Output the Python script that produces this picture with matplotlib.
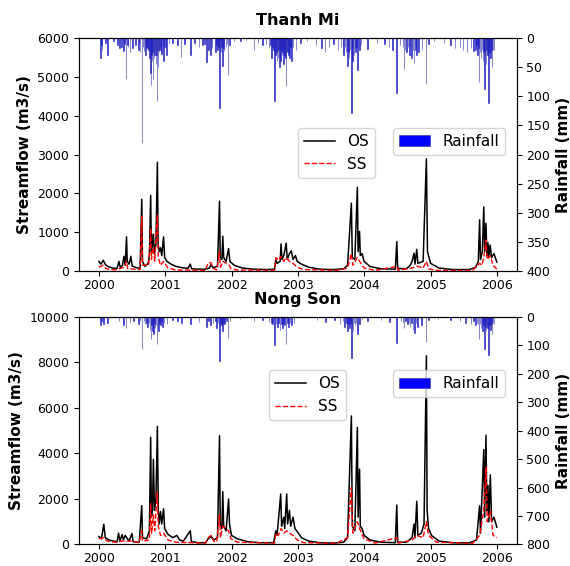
import pandas as pd
import matplotlib
matplotlib.use("Agg")
import matplotlib.pyplot as plt
import matplotlib.dates as mdates

# ---- Thanh Mi ----
tm_os = [("2000-01-01", 250), ("2000-01-12", 180), ("2000-01-25", 280), ("2000-02-05", 170), ("2000-02-20", 120),
         ("2000-03-15", 80), ("2000-04-10", 70), ("2000-04-20", 250), ("2000-04-28", 90), ("2000-05-10", 150),
         ("2000-05-18", 380), ("2000-05-25", 150), ("2000-06-01", 880), ("2000-06-05", 250), ("2000-06-15", 180),
         ("2000-06-25", 380), ("2000-07-02", 130), ("2000-07-25", 90), ("2000-08-15", 70), ("2000-08-24", 1850),
         ("2000-08-28", 250), ("2000-09-10", 120), ("2000-09-28", 200), ("2000-10-05", 400), ("2000-10-12", 1950),
         ("2000-10-16", 500), ("2000-10-22", 700), ("2000-10-27", 950), ("2000-11-02", 450), ("2000-11-10", 700),
         ("2000-11-18", 2800), ("2000-11-22", 700), ("2000-11-28", 500), ("2000-12-05", 600), ("2000-12-12", 400),
         ("2000-12-22", 880), ("2000-12-28", 350),
         ("2001-01-10", 250), ("2001-02-01", 180), ("2001-03-01", 120), ("2001-04-01", 90), ("2001-05-05", 70),
         ("2001-05-18", 180), ("2001-05-25", 60), ("2001-07-01", 50), ("2001-08-10", 50), ("2001-09-01", 80),
         ("2001-09-08", 160), ("2001-09-20", 90), ("2001-10-15", 120), ("2001-10-26", 1800), ("2001-10-30", 350),
         ("2001-11-08", 300), ("2001-11-13", 900), ("2001-11-18", 350), ("2001-12-01", 250), ("2001-12-15", 580),
         ("2001-12-22", 250),
         ("2002-01-15", 150), ("2002-03-01", 80), ("2002-05-01", 50), ("2002-07-15", 40), ("2002-08-25", 50),
         ("2002-09-01", 300), ("2002-09-08", 200), ("2002-09-25", 250), ("2002-09-30", 700), ("2002-10-05", 300),
         ("2002-10-15", 400), ("2002-10-28", 720), ("2002-11-03", 300), ("2002-11-15", 450), ("2002-11-25", 520),
         ("2002-12-05", 300), ("2002-12-18", 400), ("2002-12-28", 250),
         ("2003-01-20", 180), ("2003-03-01", 100), ("2003-05-01", 50), ("2003-07-15", 40), ("2003-09-10", 60),
         ("2003-10-01", 150), ("2003-10-22", 1750), ("2003-10-27", 350), ("2003-11-10", 300), ("2003-11-24", 2160),
         ("2003-11-28", 500), ("2003-12-06", 1020), ("2003-12-10", 400), ("2003-12-20", 450), ("2003-12-31", 250),
         ("2004-02-01", 120), ("2004-04-01", 60), ("2004-06-20", 50), ("2004-06-28", 760), ("2004-07-03", 70),
         ("2004-08-20", 60), ("2004-09-10", 150), ("2004-09-20", 250), ("2004-10-01", 460), ("2004-10-06", 180),
         ("2004-10-16", 560), ("2004-10-22", 200), ("2004-11-20", 250), ("2004-12-08", 2890), ("2004-12-14", 500),
         ("2004-12-31", 200),
         ("2005-02-15", 80), ("2005-05-01", 40), ("2005-08-01", 40), ("2005-09-05", 100), ("2005-09-20", 250),
         ("2005-09-27", 1320), ("2005-10-02", 300), ("2005-10-12", 500), ("2005-10-20", 1650), ("2005-10-25", 500),
         ("2005-11-01", 1230), ("2005-11-06", 400), ("2005-11-12", 730), ("2005-11-17", 350), ("2005-11-24", 670),
         ("2005-12-02", 350), ("2005-12-15", 450), ("2005-12-31", 230)]

tm_ss = [("2000-01-01", 100), ("2000-01-25", 150), ("2000-02-10", 60), ("2000-04-01", 30), ("2000-05-18", 100),
         ("2000-06-01", 250), ("2000-06-08", 60), ("2000-08-15", 40), ("2000-08-24", 1400), ("2000-08-28", 150),
         ("2000-10-01", 150), ("2000-10-12", 1100), ("2000-10-16", 300), ("2000-10-27", 600), ("2000-11-03", 250),
         ("2000-11-18", 1450), ("2000-11-23", 350), ("2000-12-05", 150), ("2000-12-22", 250), ("2001-01-15", 80),
         ("2001-03-01", 30), ("2001-08-10", 20), ("2001-08-22", 200), ("2001-09-08", 220), ("2001-09-20", 80),
         ("2001-10-10", 30), ("2001-10-26", 500), ("2001-10-31", 100), ("2001-11-13", 250), ("2001-12-15", 180),
         ("2001-12-28", 60), ("2002-02-01", 30), ("2002-08-25", 20), ("2002-09-01", 350), ("2002-09-15", 280),
         ("2002-09-30", 380), ("2002-10-15", 250), ("2002-10-28", 350), ("2002-11-15", 250), ("2002-12-05", 200),
         ("2002-12-28", 100), ("2003-02-01", 40), ("2003-08-01", 20), ("2003-10-01", 80), ("2003-10-22", 450),
         ("2003-10-30", 150), ("2003-11-24", 350), ("2003-12-06", 250), ("2003-12-31", 80), ("2004-03-01", 20),
         ("2004-06-28", 120), ("2004-07-05", 20), ("2004-09-20", 80), ("2004-10-16", 130), ("2004-11-20", 80),
         ("2004-12-08", 250), ("2004-12-20", 60), ("2005-02-01", 20), ("2005-08-20", 20), ("2005-09-27", 200),
         ("2005-10-10", 150), ("2005-10-20", 350), ("2005-11-01", 800), ("2005-11-08", 300), ("2005-11-24", 400),
         ("2005-12-10", 150), ("2005-12-31", 50)]

tm_rain = [("2000-01-10", 35), ("2000-01-14", 12), ("2000-01-18", 20), ("2000-02-05", 8), ("2000-02-18", 30),
           ("2000-03-20", 5), ("2000-04-12", 12), ("2000-04-22", 18), ("2000-05-05", 15), ("2000-05-15", 22),
           ("2000-05-22", 10), ("2000-05-30", 71), ("2000-06-06", 12), ("2000-06-10", 15), ("2000-06-20", 25),
           ("2000-07-05", 18), ("2000-07-20", 12), ("2000-08-05", 20), ("2000-08-10", 10), ("2000-08-15", 25),
           ("2000-08-25", 180), ("2000-09-01", 15), ("2000-09-05", 22), ("2000-09-10", 12), ("2000-09-15", 30),
           ("2000-09-20", 15), ("2000-09-25", 18), ("2000-10-01", 20), ("2000-10-05", 35), ("2000-10-10", 60),
           ("2000-10-14", 81), ("2000-10-17", 30), ("2000-10-20", 40), ("2000-10-23", 25), ("2000-10-26", 70),
           ("2000-10-30", 35), ("2000-11-02", 30), ("2000-11-06", 20), ("2000-11-10", 45), ("2000-11-14", 30),
           ("2000-11-17", 108), ("2000-11-22", 50), ("2000-11-25", 20), ("2000-11-28", 25), ("2000-12-02", 15),
           ("2000-12-05", 20), ("2000-12-12", 28), ("2000-12-18", 12), ("2000-12-22", 39), ("2000-12-27", 15),
           ("2001-01-04", 15), ("2001-01-08", 30), ("2001-01-20", 10), ("2001-02-10", 8), ("2001-03-10", 12),
           ("2001-03-28", 32), ("2001-04-15", 10), ("2001-05-18", 30), ("2001-06-10", 8), ("2001-07-05", 15),
           ("2001-07-25", 12), ("2001-08-05", 10), ("2001-08-15", 41), ("2001-08-25", 20), ("2001-09-05", 30),
           ("2001-09-10", 12), ("2001-09-15", 18), ("2001-10-05", 25), ("2001-10-10", 12), ("2001-10-15", 20),
           ("2001-10-20", 15), ("2001-10-25", 121), ("2001-10-29", 20), ("2001-11-02", 25), ("2001-11-07", 15),
           ("2001-11-12", 48), ("2001-11-16", 18), ("2001-11-20", 22), ("2001-12-01", 15), ("2001-12-07", 10),
           ("2001-12-12", 64), ("2001-12-20", 12),
           ("2002-01-15", 5), ("2002-02-20", 6), ("2002-03-20", 4), ("2002-05-05", 20), ("2002-05-25", 8),
           ("2002-06-20", 12), ("2002-07-10", 10), ("2002-07-25", 18), ("2002-08-02", 12), ("2002-08-08", 35),
           ("2002-08-14", 15), ("2002-08-20", 20), ("2002-08-26", 108), ("2002-08-30", 30), ("2002-09-05", 25),
           ("2002-09-08", 40), ("2002-09-12", 35), ("2002-09-16", 20), ("2002-09-20", 50), ("2002-09-24", 30),
           ("2002-09-28", 40), ("2002-10-02", 20), ("2002-10-05", 30), ("2002-10-09", 25), ("2002-10-12", 45),
           ("2002-10-16", 20), ("2002-10-20", 30), ("2002-10-24", 35), ("2002-10-28", 83), ("2002-11-01", 20),
           ("2002-11-05", 25), ("2002-11-10", 30), ("2002-11-15", 35), ("2002-11-20", 15), ("2002-11-25", 40),
           ("2002-12-05", 15), ("2002-12-20", 20),
           ("2003-01-15", 8), ("2003-02-20", 5), ("2003-04-10", 12), ("2003-05-10", 18), ("2003-05-30", 25),
           ("2003-06-20", 15), ("2003-07-15", 10), ("2003-08-10", 20), ("2003-08-25", 15), ("2003-09-05", 12),
           ("2003-09-10", 30), ("2003-09-16", 15), ("2003-09-22", 25), ("2003-09-27", 20), ("2003-10-01", 48),
           ("2003-10-05", 25), ("2003-10-10", 35), ("2003-10-15", 20), ("2003-10-22", 128), ("2003-10-25", 30),
           ("2003-10-28", 40), ("2003-11-01", 15), ("2003-11-05", 30), ("2003-11-10", 18), ("2003-11-15", 25),
           ("2003-11-20", 15), ("2003-11-24", 55), ("2003-12-05", 20), ("2003-12-15", 12),
           ("2004-01-20", 19), ("2004-03-10", 8), ("2004-04-20", 10), ("2004-05-15", 15), ("2004-06-05", 20),
           ("2004-06-27", 95), ("2004-07-15", 12), ("2004-08-01", 15), ("2004-08-07", 53), ("2004-08-12", 20),
           ("2004-08-20", 25), ("2004-08-28", 15), ("2004-09-05", 30), ("2004-09-10", 15), ("2004-09-18", 35),
           ("2004-09-25", 20), ("2004-10-01", 43), ("2004-10-08", 20), ("2004-10-15", 30), ("2004-10-25", 25),
           ("2004-11-15", 20), ("2004-12-07", 79), ("2004-12-20", 10),
           ("2005-01-20", 5), ("2005-03-15", 8), ("2005-04-20", 12), ("2005-05-15", 18), ("2005-06-10", 15),
           ("2005-06-28", 20), ("2005-07-20", 25), ("2005-08-10", 18), ("2005-08-25", 22), ("2005-09-05", 20),
           ("2005-09-10", 12), ("2005-09-15", 30), ("2005-09-20", 18), ("2005-09-24", 76), ("2005-09-29", 25),
           ("2005-10-05", 35), ("2005-10-10", 20), ("2005-10-15", 40), ("2005-10-19", 25), ("2005-10-23", 88),
           ("2005-10-27", 30), ("2005-11-01", 45), ("2005-11-04", 20), ("2005-11-08", 30), ("2005-11-12", 25),
           ("2005-11-16", 111), ("2005-11-20", 25), ("2005-11-25", 35), ("2005-11-30", 20), ("2005-12-05", 50),
           ("2005-12-10", 20), ("2005-12-15", 20)]

# ---- Nong Son ----
ns_os = [("2000-01-01", 350), ("2000-01-15", 250), ("2000-01-28", 890), ("2000-02-05", 300), ("2000-02-25", 200),
         ("2000-03-20", 150), ("2000-04-10", 120), ("2000-04-18", 500), ("2000-04-25", 150), ("2000-05-08", 430),
         ("2000-05-15", 200), ("2000-05-25", 400), ("2000-06-02", 300), ("2000-06-15", 150), ("2000-07-01", 480),
         ("2000-07-08", 120), ("2000-08-10", 100), ("2000-08-24", 1710), ("2000-08-28", 300), ("2000-09-20", 250),
         ("2000-10-05", 600), ("2000-10-12", 4710), ("2000-10-16", 1200), ("2000-10-22", 1500), ("2000-10-27", 3740),
         ("2000-11-02", 1500), ("2000-11-10", 2000), ("2000-11-18", 5190), ("2000-11-23", 1500), ("2000-11-28", 900),
         ("2000-12-05", 1450), ("2000-12-12", 900), ("2000-12-22", 1570), ("2000-12-28", 700),
         ("2001-01-15", 450), ("2001-02-10", 300), ("2001-03-05", 400), ("2001-03-20", 200), ("2001-04-10", 150),
         ("2001-05-18", 600), ("2001-05-24", 120), ("2001-07-01", 80), ("2001-08-10", 80), ("2001-08-25", 250),
         ("2001-09-10", 350), ("2001-09-25", 200), ("2001-10-15", 300), ("2001-10-26", 4780), ("2001-10-30", 900),
         ("2001-11-08", 700), ("2001-11-13", 2320), ("2001-11-18", 800), ("2001-12-01", 600), ("2001-12-15", 2000),
         ("2001-12-20", 900), ("2001-12-31", 400),
         ("2002-02-01", 250), ("2002-04-01", 120), ("2002-06-01", 80), ("2002-08-20", 80), ("2002-09-01", 600),
         ("2002-09-08", 400), ("2002-09-28", 2220), ("2002-10-03", 800), ("2002-10-15", 1200), ("2002-10-20", 700),
         ("2002-10-31", 2220), ("2002-11-05", 900), ("2002-11-15", 1500), ("2002-11-22", 800), ("2002-12-05", 1200),
         ("2002-12-15", 700), ("2002-12-25", 600),
         ("2003-01-20", 300), ("2003-03-01", 150), ("2003-05-01", 80), ("2003-07-15", 60), ("2003-09-10", 100),
         ("2003-10-01", 300), ("2003-10-22", 5650), ("2003-10-27", 800), ("2003-11-10", 600), ("2003-11-24", 5150),
         ("2003-11-28", 1200), ("2003-12-06", 3310), ("2003-12-10", 800), ("2003-12-20", 700), ("2003-12-31", 400),
         ("2004-02-01", 200), ("2004-04-01", 100), ("2004-06-20", 80), ("2004-06-28", 1730), ("2004-07-03", 100),
         ("2004-08-20", 100), ("2004-09-20", 300), ("2004-10-01", 900), ("2004-10-06", 300), ("2004-10-16", 1900),
         ("2004-10-22", 400), ("2004-11-10", 500), ("2004-11-25", 900), ("2004-12-08", 8290), ("2004-12-12", 1500),
         ("2004-12-20", 700), ("2005-01-05", 400),
         ("2005-02-15", 150), ("2005-05-01", 80), ("2005-08-01", 70), ("2005-09-10", 200), ("2005-09-27", 1700),
         ("2005-10-02", 500), ("2005-10-20", 4170), ("2005-10-25", 1200), ("2005-11-01", 4800), ("2005-11-06", 1500),
         ("2005-11-12", 2600), ("2005-11-17", 1000), ("2005-11-25", 3060), ("2005-12-02", 1000), ("2005-12-15", 1200),
         ("2005-12-31", 760)]

ns_ss = [("2000-01-01", 250), ("2000-01-28", 300), ("2000-02-15", 150), ("2000-04-01", 100), ("2000-05-10", 150),
         ("2000-07-01", 150), ("2000-08-10", 80), ("2000-08-24", 600), ("2000-08-28", 150), ("2000-10-05", 200),
         ("2000-10-12", 1800), ("2000-10-17", 500), ("2000-10-27", 1300), ("2000-11-03", 600), ("2000-11-18", 2300),
         ("2000-11-23", 800), ("2000-12-05", 400), ("2000-12-22", 500), ("2001-01-15", 200), ("2001-03-01", 100),
         ("2001-08-10", 60), ("2001-08-25", 300), ("2001-09-10", 400), ("2001-09-25", 150), ("2001-10-10", 100),
         ("2001-10-26", 1300), ("2001-10-31", 300), ("2001-11-13", 800), ("2001-12-15", 600), ("2001-12-28", 250),
         ("2002-02-01", 100), ("2002-08-25", 60), ("2002-09-01", 500), ("2002-09-15", 400), ("2002-09-30", 700),
         ("2002-10-15", 500), ("2002-10-31", 600), ("2002-11-15", 500), ("2002-12-05", 400), ("2002-12-28", 200),
         ("2003-02-01", 80), ("2003-08-01", 50), ("2003-10-01", 300), ("2003-10-22", 2500), ("2003-10-30", 500),
         ("2003-11-24", 1000), ("2003-12-06", 700), ("2003-12-31", 250), ("2004-03-01", 60), ("2004-06-28", 300),
         ("2004-07-05", 60), ("2004-09-20", 200), ("2004-10-16", 400), ("2004-11-20", 300), ("2004-12-08", 1000),
         ("2004-12-20", 400), ("2005-02-01", 100), ("2005-08-20", 50), ("2005-09-27", 400), ("2005-10-20", 1500),
         ("2005-11-01", 3400), ("2005-11-08", 1000), ("2005-11-25", 1500), ("2005-12-10", 400), ("2005-12-31", 300)]

ns_rain = [("2000-01-10", 30), ("2000-01-14", 15), ("2000-01-25", 25), ("2000-02-18", 20), ("2000-04-20", 15),
           ("2000-05-15", 30), ("2000-05-30", 40), ("2000-06-20", 20), ("2000-07-10", 15), ("2000-08-05", 25),
           ("2000-08-15", 15), ("2000-08-25", 111), ("2000-09-05", 15), ("2000-09-10", 25), ("2000-09-18", 20),
           ("2000-09-25", 35), ("2000-10-02", 20), ("2000-10-08", 45), ("2000-10-14", 77), ("2000-10-18", 30),
           ("2000-10-22", 50), ("2000-10-28", 60), ("2000-11-01", 25), ("2000-11-05", 40), ("2000-11-10", 30),
           ("2000-11-17", 94), ("2000-11-21", 30), ("2000-11-24", 50), ("2000-11-29", 20), ("2000-12-05", 30),
           ("2000-12-10", 15), ("2000-12-15", 35), ("2000-12-25", 20),
           ("2001-01-10", 25), ("2001-02-10", 10), ("2001-03-10", 15), ("2001-04-01", 20), ("2001-05-18", 25),
           ("2001-07-05", 18), ("2001-08-15", 35), ("2001-08-25", 15), ("2001-09-05", 30), ("2001-09-20", 20),
           ("2001-10-05", 15), ("2001-10-10", 40), ("2001-10-18", 20), ("2001-10-26", 155), ("2001-10-30", 25),
           ("2001-11-05", 30), ("2001-11-12", 50), ("2001-11-17", 20), ("2001-11-22", 25), ("2001-12-05", 15),
           ("2001-12-12", 75), ("2001-12-22", 15),
           ("2002-02-15", 8), ("2002-05-05", 15), ("2002-06-20", 12), ("2002-07-25", 18), ("2002-08-08", 20),
           ("2002-08-15", 25), ("2002-08-26", 100), ("2002-09-02", 25), ("2002-09-10", 35), ("2002-09-16", 20),
           ("2002-09-25", 45), ("2002-10-02", 25), ("2002-10-08", 40), ("2002-10-14", 20), ("2002-10-20", 30),
           ("2002-10-28", 94), ("2002-11-03", 20), ("2002-11-10", 35), ("2002-11-18", 20), ("2002-11-25", 30),
           ("2002-12-10", 20),
           ("2003-02-15", 5), ("2003-04-15", 10), ("2003-06-01", 18), ("2003-07-20", 12), ("2003-08-20", 25),
           ("2003-09-05", 15), ("2003-09-15", 35), ("2003-09-25", 20), ("2003-10-01", 50), ("2003-10-06", 25),
           ("2003-10-12", 40), ("2003-10-17", 20), ("2003-10-22", 146), ("2003-10-26", 35), ("2003-10-30", 50),
           ("2003-11-05", 20), ("2003-11-10", 30), ("2003-11-17", 20), ("2003-11-24", 60), ("2003-12-05", 25),
           ("2003-12-20", 12),
           ("2004-01-20", 15), ("2004-04-01", 10), ("2004-05-20", 18), ("2004-06-27", 92), ("2004-07-20", 15),
           ("2004-08-01", 20), ("2004-08-07", 40), ("2004-08-15", 15), ("2004-08-25", 25), ("2004-09-03", 20),
           ("2004-09-10", 35), ("2004-09-18", 20), ("2004-09-25", 45), ("2004-10-05", 55), ("2004-10-12", 20),
           ("2004-10-20", 35), ("2004-11-10", 30), ("2004-12-07", 89), ("2004-12-20", 10),
           ("2005-02-10", 8), ("2005-04-20", 12), ("2005-06-10", 15), ("2005-07-10", 20), ("2005-08-10", 25),
           ("2005-08-25", 15), ("2005-09-05", 30), ("2005-09-12", 20), ("2005-09-18", 25), ("2005-09-24", 77),
           ("2005-09-30", 25), ("2005-10-05", 40), ("2005-10-10", 25), ("2005-10-14", 50), ("2005-10-18", 30),
           ("2005-10-23", 112), ("2005-10-28", 35), ("2005-11-02", 50), ("2005-11-06", 30), ("2005-11-10", 40),
           ("2005-11-16", 135), ("2005-11-20", 30), ("2005-11-25", 45), ("2005-11-30", 25), ("2005-12-05", 60),
           ("2005-12-10", 20), ("2005-12-15", 25)]


def split(pairs):
    d = pd.to_datetime([p[0] for p in pairs])
    v = [p[1] for p in pairs]
    return d, v


def panel(ax, title, os_pairs, ss_pairs, rain_pairs, qmax, rmax, leg_y, os_leg_x):
    d, v = split(os_pairs)
    ax.plot(d, v, color='black', lw=1.1, label='OS')
    d, v = split(ss_pairs)
    ax.plot(d, v, color='red', ls='--', lw=1.0, label='SS')
    ax.set_ylim(0, qmax)
    ax.set_ylabel('Streamflow (m3/s)', fontsize=11, fontweight='bold')
    ax.set_title(title, fontsize=11.5, fontweight='bold', pad=9)
    ax.xaxis.set_major_locator(mdates.YearLocator())
    ax.xaxis.set_major_formatter(mdates.DateFormatter('%Y'))
    ax.tick_params(labelsize=9)
    ax.tick_params(axis='x', pad=2)
    ax.legend(loc='upper left', bbox_to_anchor=(os_leg_x, leg_y), borderaxespad=0, fontsize=11)

    ax2 = ax.twinx()
    d, v = split(rain_pairs)
    ax2.bar(d, v, width=3, color='blue', edgecolor='#2b2ba8', linewidth=0.4, label='Rainfall')
    ax2.set_ylim(rmax, 0)
    ax2.set_ylabel('Rainfall (mm)', fontsize=11, fontweight='bold')
    ax2.tick_params(labelsize=9)
    ax2.legend(loc='upper left', bbox_to_anchor=(0.718, leg_y), borderaxespad=0, fontsize=11)


fig = plt.figure(figsize=(5.7, 5.66), dpi=100)
ax_top = fig.add_axes([0.1386, 0.521, 0.768, 0.412])
ax_bot = fig.add_axes([0.1386, 0.038, 0.768, 0.402])

panel(ax_top, 'Thanh Mi', tm_os, tm_ss, tm_rain, 6000, 400, 0.614, 0.5)
panel(ax_bot, 'Nong Son', ns_os, ns_ss, ns_rain, 10000, 800, 0.766, 0.434)

fig.savefig('out.png', dpi=100)
